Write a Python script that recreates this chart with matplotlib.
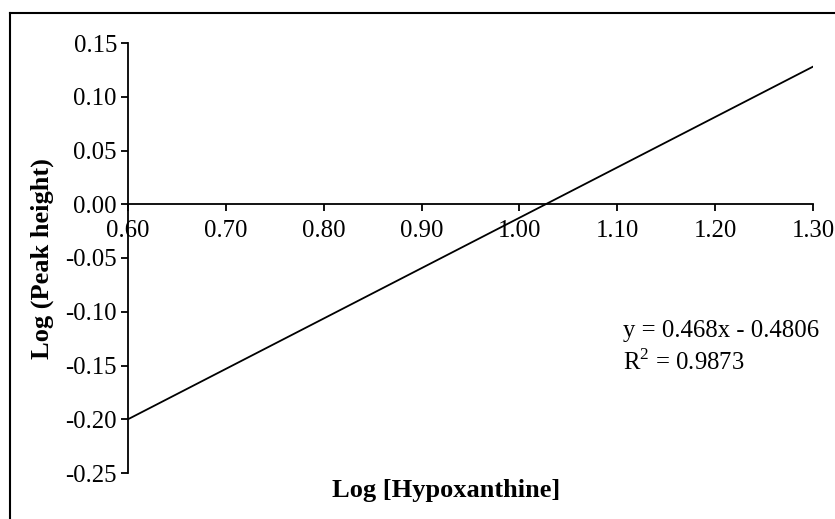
import matplotlib
matplotlib.use("Agg")
import matplotlib.pyplot as plt
from matplotlib.lines import Line2D

plt.rcParams['font.family'] = ['Liberation Serif', 'DejaVu Serif']
plt.rcParams['mathtext.fontset'] = 'custom'
plt.rcParams['mathtext.rm'] = 'Liberation Serif'

# trend line end points
trend_x = [0.60, 1.30]
trend_y = [-0.200, 0.128]

x_ticks = [0.60, 0.70, 0.80, 0.90, 1.00, 1.10, 1.20, 1.30]
y_ticks = [-0.25, -0.20, -0.15, -0.10, -0.05, 0.00, 0.05, 0.10, 0.15]

eq_text = "y = 0.468x - 0.4806"
r2_text = r"R$^{2}$ = 0.9873"

W, H = 835, 519
fig = plt.figure(figsize=(W / 100, H / 100), dpi=100)
ax = fig.add_axes([128 / W, 1 - 473 / H, (813 - 128) / W, (473 - 43) / H])

ax.plot(trend_x, trend_y, color='black', lw=1.3)

ax.set_xlim(0.60, 1.30)
ax.set_ylim(-0.25, 0.15)
ax.set_xticks(x_ticks)
ax.set_xticklabels(["%.2f" % v for v in x_ticks])
ax.set_yticks(y_ticks)
ax.set_yticklabels(["%.2f" % v for v in y_ticks])

ax.spines['top'].set_visible(False)
ax.spines['right'].set_visible(False)
ax.spines['bottom'].set_position(('data', 0))
for s in ['left', 'bottom']:
    ax.spines[s].set_linewidth(1.3)
ax.tick_params(axis='both', direction='out', length=5, width=1.3,
               labelsize=17.8, colors='black')
ax.tick_params(axis='x', pad=6)
ax.tick_params(axis='y', pad=3)

fig.text(42 / W, 1 - 259 / H, "Log (Peak height)", rotation=90,
         ha='center', va='center', fontsize=19, fontweight='bold')
fig.text(446 / W, 1 - 490 / H, "Log [Hypoxanthine]",
         ha='center', va='center', fontsize=19, fontweight='bold')

fig.text(623 / W, 1 - 337 / H, eq_text, ha='left', va='baseline', fontsize=17.8)
fig.text(623 / W, 1 - 370 / H, r2_text, ha='left', va='baseline', fontsize=17.8)

# outer frame (only top and left edges show in the picture)
fig.add_artist(Line2D([10 / W, 10 / W], [0, 1 - 13 / H], color='black', lw=1.5,
                      transform=fig.transFigure))
fig.add_artist(Line2D([10 / W, 1], [1 - 13 / H, 1 - 13 / H], color='black', lw=1.5,
                      transform=fig.transFigure))

fig.savefig("out.png", dpi=100)
